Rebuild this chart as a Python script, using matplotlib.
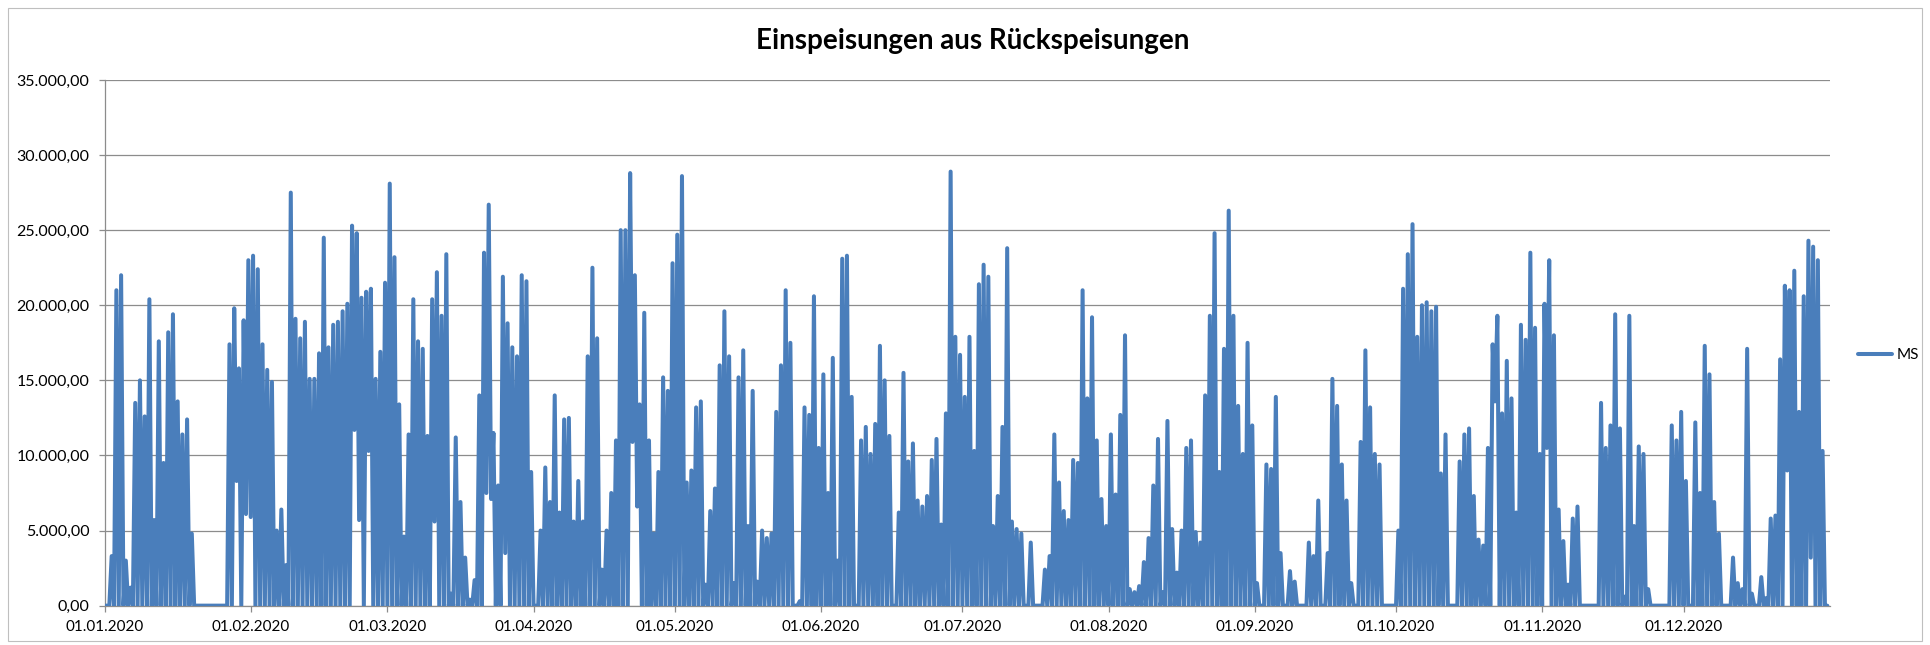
import numpy as np
import pandas as pd
import matplotlib
matplotlib.use('Agg')
import matplotlib.pyplot as plt
import matplotlib.dates as mdates
from matplotlib.ticker import FuncFormatter, MultipleLocator
from matplotlib.patches import Rectangle

# Tagesspitzen je Monat
jan = [0, 3300, 21000, 22000, 3000, 1200, 13500, 15000, 12600, 20400, 5700, 17600, 9500, 18200,
       19400, 13600, 11400, 12400, 4800, 0, 0, 0, 0, 0, 0, 0, 17400, 19800, 15800, 19000, 23000]
feb = [23300, 22400, 17400, 15700, 14900, 5000, 6400, 2700, 27500, 19100, 17800, 18900, 15100,
       15100, 16800, 24500, 17200, 18700, 18900, 19600, 20100, 25300, 24800, 20500, 20900, 21100,
       15100, 16900, 21500]
mar = [28100, 23200, 13400, 4600, 11400, 20400, 17600, 17100, 11300, 20400, 22200, 19300, 23400,
       800, 11200, 6900, 3200, 400, 1700, 14000, 23500, 26700, 11500, 8000, 21900, 18800, 17200,
       16600, 22000, 21600, 8900]
apr = [0, 5000, 9200, 6900, 14000, 6200, 12400, 12500, 5600, 8300, 5600, 16600, 22500, 17800, 2400,
       5000, 7500, 11000, 25000, 25000, 28800, 22000, 13400, 19500, 11000, 4800, 8900, 15200, 14300,
       22800]
may = [24700, 28600, 8200, 9000, 13200, 13600, 1400, 6300, 7800, 16000, 19600, 16600, 1500, 15200,
       17000, 5300, 14300, 1600, 5000, 4500, 4800, 12900, 16000, 21000, 17500, 0, 300, 13200, 12700,
       20600, 10500]
jun = [15400, 7500, 16500, 3000, 23100, 23300, 13900, 0, 11000, 11900, 10100, 12100, 17300, 15000,
       11300, 0, 6200, 15500, 9600, 10800, 7000, 6600, 7300, 9700, 11100, 5400, 12800, 28900, 17900,
       16700]
jul = [13900, 17900, 10300, 21400, 22700, 21900, 5300, 7300, 11900, 23800, 5600, 5100, 4800, 0, 4200,
       0, 0, 2400, 3300, 11400, 8200, 6300, 5700, 9700, 9500, 21000, 13800, 19200, 11000, 7100, 5300]
aug = [11400, 7400, 12700, 18000, 1100, 900, 1300, 2900, 4500, 8000, 11100, 900, 12300, 5100, 2200,
       5000, 10500, 11000, 4900, 4200, 14000, 19300, 24800, 8900, 17100, 26300, 19300, 13300, 10100,
       17500, 12000]
sep = [1500, 0, 9400, 9100, 13900, 3500, 0, 2300, 1600, 0, 0, 4200, 3300, 7000, 0, 3500, 15100, 13300,
       9400, 7000, 1500, 0, 10900, 17000, 13200, 10100, 9400, 0, 0, 0]
okt = [5000, 21100, 23400, 25400, 17900, 20000, 20200, 19600, 19900, 8800, 11400, 0, 0, 9600, 11400,
       11800, 7300, 4400, 4000, 10500, 17400, 19300, 12800, 16300, 13800, 6200, 18700, 17700, 23500,
       18500, 10100]
nov = [20100, 23000, 18000, 6400, 4300, 1400, 5800, 6600, 0, 0, 0, 0, 13500, 10500, 12000, 19400,
       11800, 600, 19300, 5300, 10600, 10100, 1100, 0, 0, 0, 0, 12000, 11000, 12900]
dez = [8300, 0, 12200, 7500, 17300, 15400, 6900, 4800, 0, 0, 3200, 1500, 1100, 17100, 800, 0, 1900,
       500, 5800, 6000, 16400, 21300, 21000, 22300, 12900, 20600, 24300, 23900, 23000, 10300, 0]

# Nachttäler, die nicht auf 0 fallen (Tag im Jahr, Wert)
trough_days = [28, 30, 31, 53, 54, 56, 70, 81, 82, 85, 112, 113, 295, 306, 357, 362]
trough_vals = [8300, 6100, 5900, 11700, 5700, 10300, 5600, 7500, 7100, 3500, 10900, 6600, 13600,
               10500, 9000, 3200]

month_ticks = pd.date_range('2020-01-01', '2020-12-01', freq='MS')

peaks = jan + feb + mar + apr + may + jun + jul + aug + sep + okt + nov + dez
assert len(peaks) == 366
lows = np.zeros(len(peaks))
lows[trough_days] = trough_vals

days = pd.date_range('2020-01-01', periods=len(peaks), freq='D')
times = np.empty(2 * len(peaks), dtype='datetime64[ns]')
times[0::2] = days.values
times[1::2] = (days + pd.Timedelta(hours=12)).values
values = np.empty(2 * len(peaks))
values[0::2] = lows
values[1::2] = peaks

plt.rcParams['font.family'] = ['Lato', 'DejaVu Sans']

fig = plt.figure(figsize=(19.3, 6.45), dpi=100)
fig.patches.append(Rectangle((0.004, 0.006), 0.992, 0.982, transform=fig.transFigure,
                             fill=False, edgecolor='#bfbfbf', linewidth=0.8))
ax = fig.add_axes([0.0542, 0.061, 0.8938, 0.815])

ax.plot(times, values, color='#4a7ebb', linewidth=2.9, solid_joinstyle='round',
        solid_capstyle='round', label='MS', zorder=3)

ax.set_ylim(0, 35000)
ax.set_xlim(pd.Timestamp('2020-01-01'), pd.Timestamp('2021-01-01'))
ax.yaxis.set_major_locator(MultipleLocator(5000))
ax.yaxis.set_major_formatter(FuncFormatter(
    lambda v, p: f'{v:,.2f}'.replace(',', 'X').replace('.', ',').replace('X', '.')))
ax.set_xticks(month_ticks)
ax.xaxis.set_major_formatter(mdates.DateFormatter('%d.%m.%Y'))

ax.grid(axis='y', color='#8c8c8c', linewidth=0.9, zorder=0)
ax.set_axisbelow(True)
for s in ['top', 'right']:
    ax.spines[s].set_visible(False)
for s in ['left', 'bottom']:
    ax.spines[s].set_color('#8c8c8c')
    ax.spines[s].set_linewidth(0.9)
ax.tick_params(axis='y', length=4, width=0.9, color='#8c8c8c', pad=7, labelsize=11.5)
ax.tick_params(axis='x', length=4, width=0.9, color='#8c8c8c', pad=6, labelsize=11)

fig.text(0.504, 1 - 41 / 645, 'Einspeisungen aus Rückspeisungen', ha='center', va='center',
         fontsize=20, fontweight='bold')

fig.legend(loc='center left', bbox_to_anchor=(1852 / 1930, 1 - 355 / 645), frameon=False,
           handlelength=2.2, handletextpad=0.3, borderaxespad=0, fontsize=11)

plt.savefig('out.png', dpi=100)
